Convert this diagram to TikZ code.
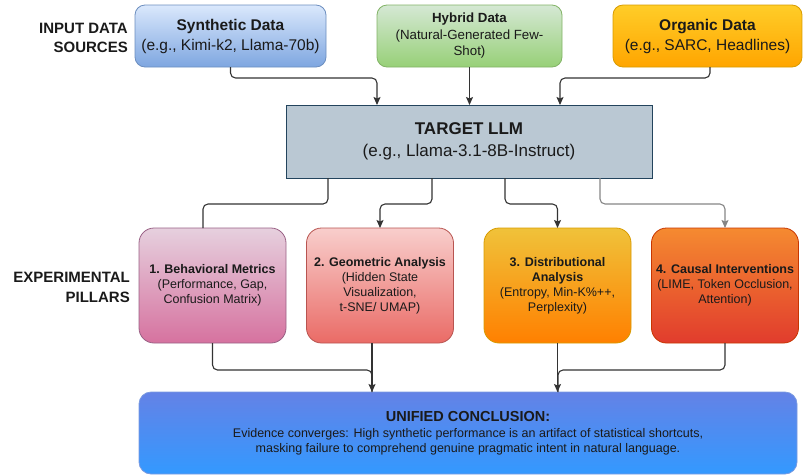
\documentclass[tikz,border=0pt]{standalone}
\usepackage{fontspec}
\setmainfont{Liberation Sans}
\usetikzlibrary{arrows.meta}
\definecolor{synT}{HTML}{DAE8FC}\definecolor{synB}{HTML}{7EA6E0}\definecolor{synD}{HTML}{6C8EBF}
\definecolor{hybT}{HTML}{D5E8D4}\definecolor{hybB}{HTML}{97D077}\definecolor{hybD}{HTML}{82B366}
\definecolor{orgT}{HTML}{FFCD28}\definecolor{orgB}{HTML}{FFA500}\definecolor{orgD}{HTML}{D79B00}
\definecolor{tgtF}{HTML}{BAC8D3}\definecolor{tgtD}{HTML}{23445D}
\definecolor{pAT}{HTML}{E6D0DE}\definecolor{pAB}{HTML}{D6729F}\definecolor{pAD}{HTML}{996185}
\definecolor{pBT}{HTML}{F8CECC}\definecolor{pBB}{HTML}{EA6B66}\definecolor{pBD}{HTML}{B85450}
\definecolor{pCT}{HTML}{F0C23A}\definecolor{pCB}{HTML}{FF8000}\definecolor{pCD}{HTML}{D79B00}
\definecolor{pDT}{HTML}{F58A30}\definecolor{pDB}{HTML}{E13C2D}\definecolor{pDD}{HTML}{C73500}
\definecolor{cT}{HTML}{6482E6}\definecolor{cB}{HTML}{3399FF}\definecolor{cD}{HTML}{7A9AE0}
\definecolor{txt}{HTML}{1A1A1A}\definecolor{lineC}{HTML}{333333}\definecolor{lineG}{HTML}{858585}
\newcommand\myfA{\fontsize{15.5}{20}\selectfont}
\newcommand\myfB{\fontsize{13.3}{16.5}\selectfont}
\newcommand\myfC{\fontsize{17}{22}\selectfont}
\newcommand\myfD{\fontsize{12.5}{15}\selectfont}
\newcommand\myfE{\fontsize{12.5}{15}\selectfont}
\newcommand\myfL{\fontsize{15}{19.5}\selectfont}
\begin{document}
\begin{tikzpicture}[x=1pt,y=-1pt,
  inbox/.style={draw, line width=0.8pt, rounded corners=10pt, align=center, inner sep=0pt, outer sep=0pt, text=txt, minimum height=62pt},
  pillar/.style={draw, line width=0.8pt, rounded corners=15pt, align=center, inner sep=0pt, outer sep=0pt, text=txt, minimum width=147pt, minimum height=115pt, font=\myfD},
  lbl/.style={align=right, anchor=east, font=\myfL\bfseries, text=txt, inner sep=0pt},
  connplain/.style={draw=lineC, line width=1.1pt, rounded corners=5pt},
  conn/.style={connplain, -{Stealth[length=8pt,width=7pt,inset=1.5pt]}},
]
\useasboundingbox (0,0) rectangle (803,475);

% left labels
\node[lbl] (lin) at (128,38) {INPUT DATA\\SOURCES};
\node[lbl] (lex) at (130,287.5) {EXPERIMENTAL\\PILLARS};

% inputs
\node[inbox, top color=synT, bottom color=synB, draw=synD, minimum width=191pt, font=\myfA] (syn) at (230.5,36) {\textbf{Synthetic Data}\\(e.g., Kimi-k2, Llama-70b)};
\node[inbox, top color=hybT, bottom color=hybB, draw=hybD, minimum width=185pt, font=\myfB] (hyb) at (469.5,36) {\textbf{Hybrid Data}\\(Natural-Generated Few-\\Shot)};
\node[inbox, top color=orgT, bottom color=orgB, draw=orgD, minimum width=189pt, font=\myfA] (org) at (707.5,36) {\textbf{Organic Data}\\(e.g., SARC, Headlines)};

% target
\node[draw=tgtD, fill=tgtF, line width=0.9pt, minimum width=366pt, minimum height=73pt, inner sep=0pt, outer sep=0pt, align=center, font=\myfC, text=txt] (tgt) at (469,141.5) {\textbf{TARGET LLM}\\(e.g., Llama-3.1-8B-Instruct)};

% pillars
\node[pillar, top color=pAT, bottom color=pAB, draw=pAD] (p1) at (212.5,285.5) {\textbf{1. Behavioral Metrics}\\(Performance, Gap,\\Confusion Matrix)};
\node[pillar, top color=pBT, bottom color=pBB, draw=pBD] (p2) at (380,285.5) {\textbf{2. Geometric Analysis}\\(Hidden State\\Visualization,\\t-SNE/ UMAP)};
\node[pillar, top color=pCT, bottom color=pCB, draw=pCD] (p3) at (557.5,285.5) {\textbf{3. Distributional}\\\textbf{Analysis}\\(Entropy, Min-K\%++,\\Perplexity)};
\node[pillar, top color=pDT, bottom color=pDB, draw=pDD] (p4) at (725,285.5) {\textbf{4. Causal Interventions}\\(LIME, Token Occlusion,\\Attention)};

% conclusion
\node[draw=cD, top color=cT, bottom color=cB, line width=0.8pt, rounded corners=12pt, minimum width=658pt, minimum height=82pt, inner sep=0pt, outer sep=0pt, align=center, font=\myfE, text=txt] (conc) at (468,433) {{\fontsize{14.5}{17}\selectfont\bfseries UNIFIED CONCLUSION:}\\[1pt]Evidence converges: High synthetic performance is an artifact of statistical shortcuts,\\masking failure to comprehend genuine pragmatic intent in natural language.};

% inputs -> target
\draw[conn] (syn.south) -- ++(0,11) -| ([xshift=-92pt]tgt.north);
\draw[conn] (hyb.south) -- (hyb.south |- tgt.north);
\draw[conn] ([xshift=2.5pt]org.south) -- ++(0,11) -| ([xshift=91pt]tgt.north);

% target -> pillars
\draw[connplain] ([xshift=-141pt]tgt.south) -- ++(0,26) -| ([xshift=-9.5pt]p1.north);
\draw[conn] ([xshift=-37pt]tgt.south) -- ++(0,26) -| (p2.north);
\draw[conn] ([xshift=36pt]tgt.south) -- ++(0,26) -| (p3.north);
\draw[conn, draw=lineG] ([xshift=131pt]tgt.south) -- ++(0,26) -| (p4.north);

% pillars -> conclusion
\draw[connplain] (p1.south) -- ++(0,27) -| ([xshift=-96pt]conc.north);
\draw[conn] ([xshift=-8pt]p2.south) -- ([xshift=-8pt]p2.south |- conc.north);
\draw[conn] (p3.south) -- (p3.south |- conc.north);
\draw[connplain] (p4.south) -- ++(0,27) -| ([xshift=90pt]conc.north);
\end{tikzpicture}
\end{document}
